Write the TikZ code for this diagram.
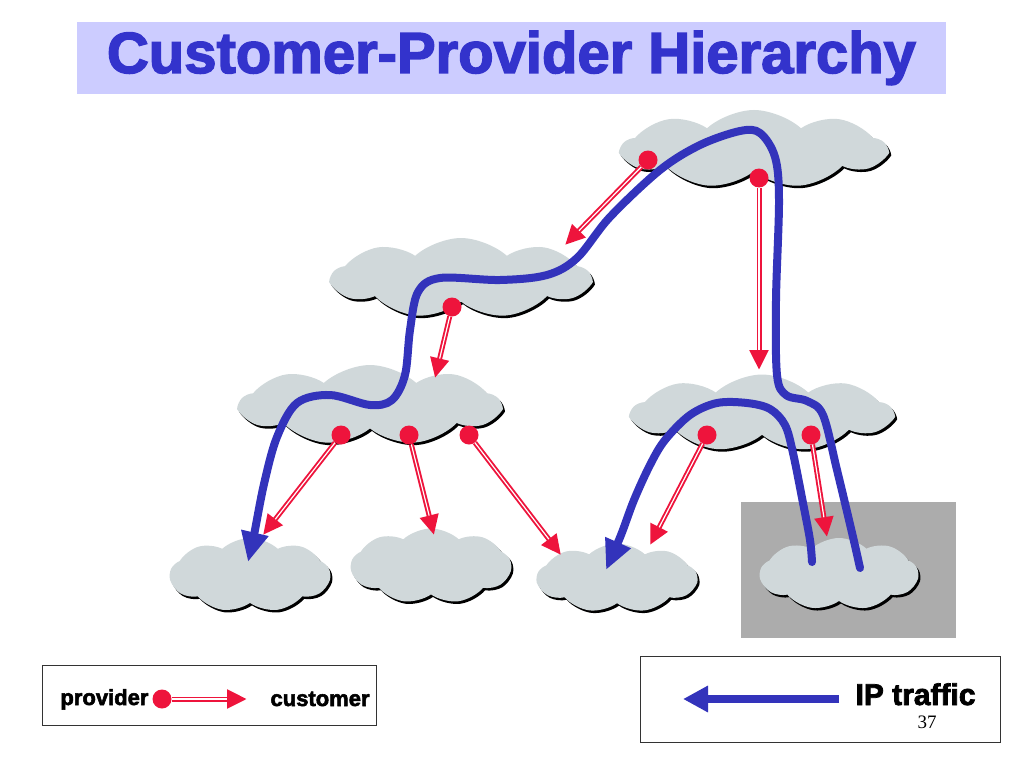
\documentclass[tikz,border=0pt]{standalone}
\usepackage{fontspec}
\newfontfamily\heavyfont{Liberation Sans}[BoldFeatures={FakeBold=2.5}]
\newfontfamily\numfont{Liberation Serif}
\usetikzlibrary{shapes.symbols,shadows,arrows.meta}

\definecolor{titlebg}{RGB}{204,204,255}
\definecolor{titleblue}{RGB}{51,51,204}
\definecolor{trafficblue}{RGB}{51,51,187}
\definecolor{cloudgray}{RGB}{208,216,218}
\definecolor{linkred}{RGB}{238,20,60}
\definecolor{boxgray}{RGB}{172,172,172}

\tikzset{
  as/.style={cloud, cloud puffs=9, cloud puff arc=85, cloud ignores aspect,
    fill=cloudgray, inner sep=0pt,
    drop shadow={shadow xshift=2pt, shadow yshift=-2.5pt, fill=black, opacity=1}},
  provdot/.style={circle, fill=linkred, minimum size=19pt, inner sep=0pt},
  provlink/.style={linkred, line width=5pt, -{Triangle[length=20pt,width=18pt]}},
  provstripe/.style={white, line width=1.2pt, shorten >=20pt},
  traffic/.style={trafficblue, line width=8pt, line cap=round,
    -{Triangle[length=30pt,width=26pt]}},
  legendbox/.style={draw=black!80, line width=0.8pt},
  label/.style={font=\heavyfont\bfseries\fontsize{22}{22}\selectfont}
}
\newcommand\custlink[2]{%
  \draw[provlink] (#1) -- (#2);
  \draw[provstripe] (#1) -- (#2);}

\begin{document}
\begin{tikzpicture}[x=1pt, y=-1pt]
  \useasboundingbox (0,0) rectangle (1024,768);

  % title
  \node[fill=titlebg, text=titleblue, minimum width=869pt, minimum height=72pt,
    font=\heavyfont\bfseries\fontsize{58}{58}\selectfont] (title) at (511.5,58)
    {Customer-Provider Hierarchy};

  % shaded stub region
  \fill[boxgray] (741,502) rectangle (956,638);

  % autonomous systems
  \node[as, minimum width=264pt, minimum height=78pt] (tier1) at (754,149) {};
  \node[as, minimum width=258pt, minimum height=80pt] (tier2) at (461,278) {};
  \node[as, minimum width=260pt, minimum height=80pt] (regA) at (370,405) {};
  \node[as, minimum width=260pt, minimum height=77pt] (regB) at (762,413) {};
  \node[as, minimum width=160pt, minimum height=74pt] (stubA) at (250,575) {};
  \node[as, minimum width=160pt, minimum height=75pt] (stubB) at (431,566) {};
  \node[as, minimum width=160pt, minimum height=69pt] (stubC) at (617,578) {};
  \node[as, minimum width=158pt, minimum height=72pt] (stubD) at (839,574) {};

  % traffic paths
  \coordinate (srcD1) at (860,568);
  \coordinate (dstA) at (248,562);
  \coordinate (srcD2) at (812,562);
  \coordinate (dstC) at (606,570);
  \draw[traffic] plot[smooth, tension=0.55] coordinates {(srcD1) (853,537) (837,470)
    (823,415) (807,401) (786,395) (777,375) (776,300) (779,200) (775,157) (760,133)
    (740,131) (700,145) (660,170) (610,217) (577,258) (547,275) (500,280) (440,278)
    (418,292) (410,330) (405,375) (392,400) (370,405) (330,395) (297,403) (277,437)
    (264,484) (254,535) (dstA)};
  \draw[traffic] plot[smooth, tension=0.55] coordinates {(srcD2) (810,540) (803,503)
    (793,453) (785,425) (770,409) (747,403) (717,403) (690,415) (665,440) (650,465)
    (634,500) (621,535) (dstC)};

  % provider -> customer links
  \node[provdot] (p1) at (648,160) {};
  \node[provdot] (p2) at (759,178) {};
  \node[provdot] (p3) at (452,307) {};
  \node[provdot] (p4) at (341,435) {};
  \node[provdot] (p5) at (409,435) {};
  \node[provdot] (p6) at (469,435) {};
  \node[provdot] (p7) at (707,435) {};
  \node[provdot] (p8) at (811,435) {};
  \coordinate (c1) at (565,245);
  \coordinate (c2) at (759,370);
  \coordinate (c3) at (435,378);
  \coordinate (c4) at (263,535);
  \coordinate (c5) at (434,535);
  \coordinate (c6) at (561,555);
  \coordinate (c7) at (650,545);
  \coordinate (c8) at (827,537);
  \foreach \i in {1,...,8} {\custlink{p\i}{c\i}}

  % legend: provider / customer
  \node[legendbox, minimum width=334pt, minimum height=60pt] (legA) at (209,695) {};
  \node[label, anchor=base east] (provtxt) at (152,705) {provider};
  \node[label, anchor=base west] (custtxt) at (267,706) {customer};
  \node[provdot] (lp) at (162,699) {};
  \coordinate (lc) at (247,699);
  \custlink{lp}{lc}

  % legend: IP traffic
  \node[legendbox, minimum width=360pt, minimum height=86pt] (legB) at (820,699) {};
  \node[label, font=\heavyfont\bfseries\fontsize{30}{30}\selectfont, anchor=base west]
    (iptxt) at (852,705) {IP traffic};
  \node[font=\numfont\fontsize{19}{19}\selectfont, anchor=base] (pagenum) at (927,728) {37};
  \coordinate (lt0) at (839,699);
  \coordinate (lt1) at (683,699);
  \draw[traffic, line cap=butt, -{Triangle[length=25pt,width=25pt]}] (lt0) -- (lt1);
\end{tikzpicture}
\end{document}
